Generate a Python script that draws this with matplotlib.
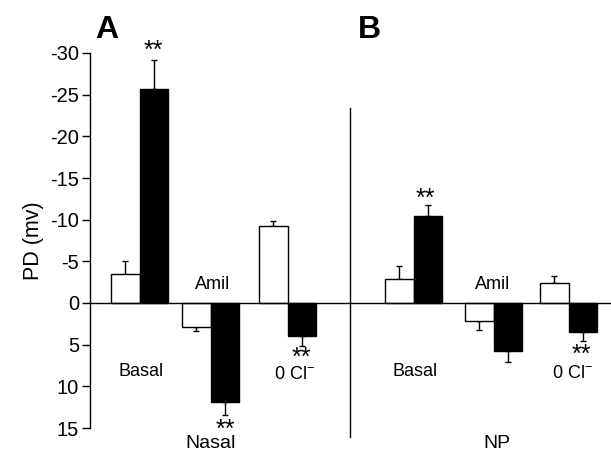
import numpy as np
import matplotlib.pyplot as plt

plt.rcParams['font.family'] = ['Liberation Sans', 'DejaVu Sans']
plt.rcParams['mathtext.fontset'] = 'custom'
plt.rcParams['mathtext.rm'] = 'Liberation Sans'

# valores (PD em mV, negativo para cima)
grupos = ['Basal', 'Amil', '0 Cl', 'Basal', 'Amil', '0 Cl']
branco = [-3.5, 2.9, -9.3, -2.9, 2.2, -2.4]
branco_erro = [1.5, 0.5, 0.6, 1.6, 1.0, 0.8]
preto = [-25.7, 11.9, 3.9, -10.4, 5.8, 3.5]
preto_erro = [3.5, 1.5, 1.3, 1.4, 1.3, 1.1]
yticks = [-30, -25, -20, -15, -10, -5, 0, 5, 10, 15]

# posições dos pares de barras
centros = [49.5, 120.5, 197.5, 323.5, 403.5, 478.5]
largura = 28.5

fig = plt.figure(figsize=(6.11, 4.53), dpi=100)
ax = fig.add_axes([90/611, 25/453, 521/611, 375/453])

xc = np.array(centros)
xb = xc - largura/2
xp = xc + largura/2

# erros só para o lado oposto ao zero
eb = [[e if v < 0 else 0 for v, e in zip(branco, branco_erro)],
      [e if v > 0 else 0 for v, e in zip(branco, branco_erro)]]
ep = [[e if v < 0 else 0 for v, e in zip(preto, preto_erro)],
      [e if v > 0 else 0 for v, e in zip(preto, preto_erro)]]

ax.bar(xb, branco, largura, color='white', edgecolor='black', linewidth=1, zorder=2)
ax.bar(xp, preto, largura, color='black', edgecolor='black', linewidth=1, zorder=2)
ax.errorbar(xb, branco, yerr=eb, fmt='none', ecolor='black', elinewidth=1, capsize=2.5, capthick=1, zorder=1)
ax.errorbar(xp, preto, yerr=ep, fmt='none', ecolor='black', elinewidth=1, capsize=2.5, capthick=1, zorder=1)

ax.axhline(0, color='black', lw=1, zorder=3)

ax.set_xlim(0, 521)
ax.set_ylim(15, -30)
ax.set_yticks(yticks)
ax.set_yticklabels([str(t) for t in yticks])
ax.tick_params(axis='y', labelsize=14.5, length=6, width=1, direction='out', pad=2)
ax.set_xticks([])
for s in ['top', 'right', 'bottom']:
    ax.spines[s].set_visible(False)
ax.spines['left'].set_linewidth(1)
ax.set_ylabel('PD (mv)', fontsize=15.5, labelpad=4)

# linha divisória
ax.plot([260, 260], [-23.4, 16.1], color='black', lw=1, clip_on=False)

# rótulos
fs = 13
ax.text(51, 8.2, 'Basal', ha='center', va='center', fontsize=fs)
ax.text(325, 8.2, 'Basal', ha='center', va='center', fontsize=fs)
ax.text(123, -2.2, 'Amil', ha='center', va='center', fontsize=fs)
ax.text(403, -2.2, 'Amil', ha='center', va='center', fontsize=fs)
ax.text(204, 8.6, '0 Cl$^{-}$', ha='center', va='center', fontsize=fs)
ax.text(482, 8.4, '0 Cl$^{-}$', ha='center', va='center', fontsize=fs)
ax.text(121, 16.9, 'Nasal', ha='center', va='center', fontsize=14, clip_on=False)
ax.text(407, 16.9, 'NP', ha='center', va='center', fontsize=14, clip_on=False)

# asteriscos
ast = dict(ha='center', va='center', fontsize=18)
ax.text(63, -30.2, '**', clip_on=False, **ast)
ax.text(135, 15.2, '**', clip_on=False, **ast)
ax.text(211, 6.6, '**', **ast)
ax.text(335, -12.5, '**', **ast)
ax.text(491, 6.2, '**', **ast)

# letras dos painéis
fig.text(95/611, 1 - 30/453, 'A', fontsize=23, fontweight='bold', va='center', ha='left')
fig.text(358/611, 1 - 30/453, 'B', fontsize=23, fontweight='bold', va='center', ha='left')

fig.savefig('out.png', dpi=100)
